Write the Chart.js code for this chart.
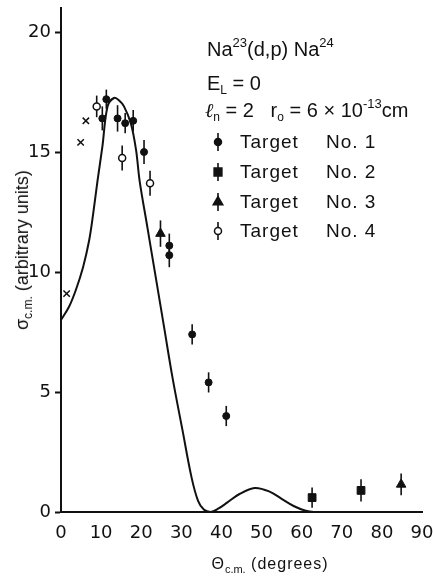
<!DOCTYPE html>
<html>
<head>
<meta charset="utf-8">
<script src="https://cdn.jsdelivr.net/npm/chart.js@4.4.1/dist/chart.umd.min.js"></script>
<style>
  body { margin: 0; background: #fff; }
  #wrap { position: relative; width: 433px; height: 577px; font-family: "Liberation Sans", Arial, sans-serif; color: #111; }
  canvas { position: absolute; left: 0; top: 0; }
  .t { position: absolute; white-space: nowrap; line-height: 1; }
  .t sup { font-size: 13px; vertical-align: 0; position: relative; top: -9px; }
  .t sub { font-size: 12px; vertical-align: 0; position: relative; top: 4px; }
  .lg { font-size: 19px; letter-spacing: 1px; }
  .lg span { position: absolute; left: 86px; }
</style>
</head>
<body>
<div id="wrap">
  <canvas id="chart" width="433" height="577"></canvas>

  <div class="t" style="left:207px; top:39px; font-size:20px;">Na<sup>23</sup>(d,p) Na<sup>24</sup></div>
  <div class="t" style="left:207px; top:73px; font-size:20px;">E<sub>L</sub> = 0</div>
  <div class="t" style="left:205px; top:100px; font-size:20px;"><i style="font-family:'DejaVu Serif',serif;">ℓ</i><sub>n</sub> = 2&nbsp;&nbsp; r<sub>o</sub> = 6 × 10<sup>-13</sup>cm</div>

  <div class="t lg" style="left:240px; top:132px;">Target<span>No. 1</span></div>
  <div class="t lg" style="left:240px; top:162px;">Target<span>No. 2</span></div>
  <div class="t lg" style="left:240px; top:192px;">Target<span>No. 3</span></div>
  <div class="t lg" style="left:240px; top:221px;">Target<span>No. 4</span></div>

  <div class="t" style="left:22px; top:250px; font-size:18px; transform:translate(-50%,-50%) rotate(-90deg);">σ<sub>c.m.</sub> (arbitrary units)</div>
  <div class="t" style="left:270px; top:564px; font-size:16px; letter-spacing:1px; transform:translate(-50%,-50%);">Θ<sub style="letter-spacing:0; font-size:11px;">c.m.</sub> (degrees)</div>
</div>

<script>
// theoretical curve (l_n = 2)
const curveX = [0, 2, 3.7, 5.5, 7, 8, 9.1, 10.3, 11.6, 13.2, 14.5, 15.7, 17.4, 18.7, 19.6, 21.5, 23.7, 25.7, 27.8, 30.3, 32.6, 34.2, 35.6, 37.3, 39.3, 41.5, 44.5, 48.3, 52, 55, 58, 61, 63, 88];
const curveY = [8.0, 8.55, 9.25, 10.2, 11.3, 12.4, 13.8, 15.2, 16.9, 17.25, 17.15, 16.9, 16.2, 15.1, 13.8, 11.9, 9.7, 7.7, 5.6, 3.4, 1.4, 0.45, 0.1, 0, 0.15, 0.4, 0.75, 1.0, 0.85, 0.55, 0.25, 0.05, 0, 0];

// Target No. 1 (filled circles)
const t1X = [10.3, 11.3, 14.1, 16, 18, 20.7, 27, 27, 32.7, 36.8, 41.2];
const t1Y = [16.4, 17.2, 16.4, 16.2, 16.3, 15.0, 11.1, 10.7, 7.4, 5.4, 4.0];
const t1Err = [0.5, 0.4, 0.55, 0.42, 0.45, 0.5, 0.5, 0.5, 0.42, 0.42, 0.42];

// Target No. 2 (squares)
const t2X = [62.6, 74.8];
const t2Y = [0.6, 0.9];
const t2Err = [0.42, 0.46];

// Target No. 3 (triangles)
const t3X = [24.8, 84.8];
const t3Y = [11.6, 1.15];
const t3Err = [0.55, 0.45];

// Target No. 4 (open circles)
const t4X = [8.9, 15.25, 22.2];
const t4Y = [16.9, 14.75, 13.7];
const t4Err = [0.45, 0.52, 0.52];

// crosses
const crossX = [1.4, 4.9, 6.2];
const crossY = [9.1, 15.4, 16.3];

const yTicks = [0, 5, 10, 15, 20];

const pts = (xs, ys) => xs.map((x, i) => ({ x: x, y: ys[i] }));
const ink = '#111';

const errorBars = {
  id: 'errorBars',
  beforeDatasetsDraw(chart) {
    const { ctx, scales: { x, y } } = chart;
    ctx.save();
    ctx.strokeStyle = ink;
    ctx.lineWidth = 1.6;
    chart.data.datasets.forEach(ds => {
      if (!ds.errors) return;
      ds.data.forEach((p, i) => {
        const px = x.getPixelForValue(p.x);
        ctx.beginPath();
        ctx.moveTo(px, y.getPixelForValue(p.y - ds.errors[i]));
        ctx.lineTo(px, y.getPixelForValue(p.y + ds.errors[i]));
        ctx.stroke();
      });
    });
    ctx.restore();
  }
};

// legend symbols next to the html text
const legendSymbols = {
  id: 'legendSymbols',
  afterDraw(chart) {
    const ctx = chart.ctx;
    const rows = [
      { y: 142, style: 'circle', r: 3.5, fill: ink },
      { y: 172, style: 'rect', r: 5.5, fill: ink },
      { y: 202, style: 'triangle', r: 5.5, fill: ink },
      { y: 231, style: 'circle', r: 3.5, fill: '#fff' }
    ];
    ctx.save();
    rows.forEach(r => {
      ctx.strokeStyle = ink;
      ctx.lineWidth = 1.6;
      ctx.beginPath();
      ctx.moveTo(218, r.y - 9);
      ctx.lineTo(218, r.y + 9);
      ctx.stroke();
      ctx.fillStyle = r.fill;
      ctx.lineWidth = 1.5;
      Chart.helpers.drawPoint(ctx, { pointStyle: r.style, radius: r.r, rotation: 0, borderWidth: 1.5 }, 218, r.y);
    });
    ctx.restore();
  }
};

new Chart(document.getElementById('chart').getContext('2d'), {
  type: 'scatter',
  data: {
    datasets: [
      {
        label: 'theory',
        data: pts(curveX, curveY),
        showLine: true,
        borderColor: ink,
        borderWidth: 2,
        pointRadius: 0,
        tension: 0.35,
        order: 5
      },
      {
        label: 'Target No. 1',
        data: pts(t1X, t1Y),
        errors: t1Err,
        pointStyle: 'circle',
        pointRadius: 3.5,
        backgroundColor: ink,
        borderColor: ink,
        borderWidth: 1
      },
      {
        label: 'Target No. 2',
        data: pts(t2X, t2Y),
        errors: t2Err,
        pointStyle: 'rect',
        pointRadius: 5.5,
        backgroundColor: ink,
        borderColor: ink,
        borderWidth: 1
      },
      {
        label: 'Target No. 3',
        data: pts(t3X, t3Y),
        errors: t3Err,
        pointStyle: 'triangle',
        pointRadius: 5.5,
        backgroundColor: ink,
        borderColor: ink,
        borderWidth: 1
      },
      {
        label: 'Target No. 4',
        data: pts(t4X, t4Y),
        errors: t4Err,
        pointStyle: 'circle',
        pointRadius: 3.5,
        backgroundColor: '#fff',
        borderColor: ink,
        borderWidth: 1.5
      },
      {
        label: 'x',
        data: pts(crossX, crossY),
        pointStyle: 'crossRot',
        pointRadius: 4.5,
        borderColor: ink,
        borderWidth: 1.5
      }
    ]
  },
  options: {
    responsive: false,
    animation: false,
    devicePixelRatio: 1,
    layout: { padding: { top: 8, right: 11, left: 0, bottom: 0 } },
    plugins: { legend: { display: false }, tooltip: { enabled: false } },
    scales: {
      x: {
        type: 'linear',
        min: 0,
        max: 90,
        ticks: { stepSize: 10, color: ink, padding: 11, maxRotation: 0, font: { family: 'DejaVu Sans', size: 18 } },
        grid: { display: true, drawOnChartArea: false, drawTicks: false },
        border: { color: ink, width: 2 },
        afterFit(scale) { scale.height = 65; scale.paddingLeft = 0; scale.paddingRight = 0; }
      },
      y: {
        type: 'linear',
        min: 0,
        max: 21,
        ticks: { stepSize: 5, color: ink, padding: 4, font: { family: 'DejaVu Sans', size: 18 } },
        afterBuildTicks(scale) { scale.ticks = yTicks.map(v => ({ value: v })); },
        grid: { drawOnChartArea: false, tickLength: 6, tickColor: ink, tickWidth: 2 },
        border: { color: ink, width: 2 },
        afterFit(scale) { scale.width = 61; scale.paddingTop = 0; scale.paddingBottom = 0; }
      }
    }
  },
  plugins: [errorBars, legendSymbols]
});
</script>
</body>
</html>
